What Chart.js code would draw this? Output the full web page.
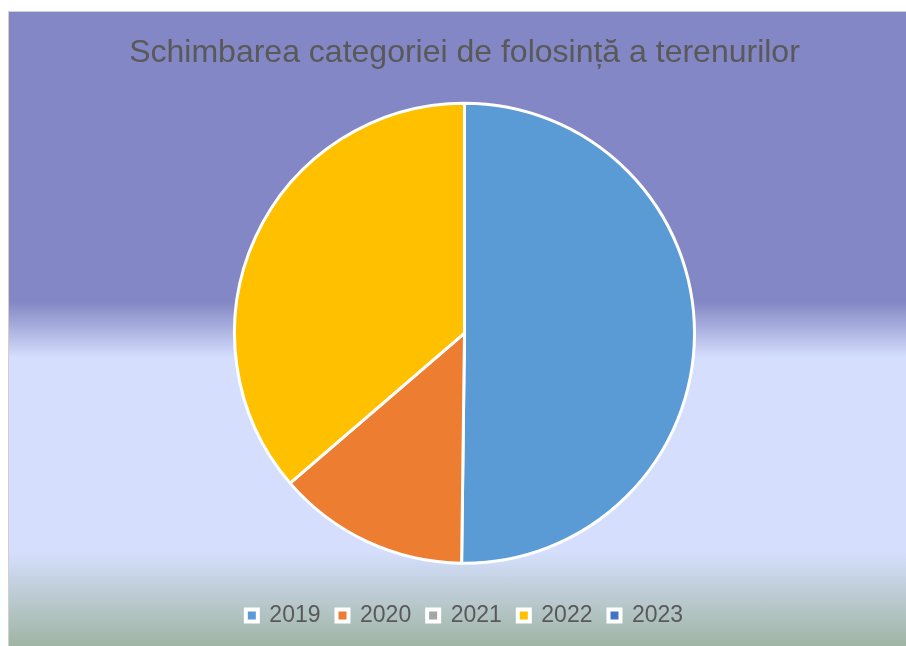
<!DOCTYPE html>
<html>
<head>
<meta charset="utf-8">
<script src="https://cdn.jsdelivr.net/npm/chart.js@4/dist/chart.umd.min.js"></script>
<style>
  html, body { margin: 0; padding: 0; background: #ffffff; }
  #box {
    position: absolute;
    left: 8px;
    top: 11px;
    width: 898px;
    height: 635px;
    border-top: 1px solid #d0d0d0;
    border-left: 1px solid #d0d0d0;
    box-sizing: border-box;
    background: linear-gradient(to bottom,
      #8387c5 0px, #8387c5 290px,
      #d5dffd 346px, #d5dffd 540px,
      #9fb4a3 635px);
  }
</style>
</head>
<body>
<div id="box"><canvas id="pieChart"></canvas></div>
<script>
// years and share of each change
const years = ["2019", "2020", "2021", "2022", "2023"];
const values = [50.2, 13.5, 0, 36.3, 0];
const colors = ["#5b9bd5", "#ed7d31", "#a5a5a5", "#ffc000", "#4472c4"];

const ctx = document.getElementById("pieChart");

var chart = new Chart(ctx, {
  type: "pie",
  data: {
    labels: years,
    datasets: [
      {
        data: values,
        backgroundColor: colors,
        borderColor: "#ffffff",
        borderWidth: 3,
        radius: 230,
      },
    ],
  },
  options: {
    responsive: true,
    maintainAspectRatio: false,
    animation: false,
    layout: {
      padding: { left: 14, right: 0, top: 0, bottom: 9 },
    },
    plugins: {
      title: {
        display: true,
        text: "Schimbarea categoriei de folosință a terenurilor",
        color: "#595959",
        font: {
          family: "'Liberation Sans', Arial, sans-serif",
          size: 32,
          weight: "normal",
          lineHeight: 1.2,
        },
        padding: { top: 22, bottom: 6 },
      },
      legend: {
        position: "bottom",
        labels: {
          color: "#595959",
          boxWidth: 12,
          boxHeight: 12,
          padding: 16,
          font: {
            family: "'Liberation Sans', Arial, sans-serif",
            size: 23,
          },
          generateLabels: function (chart) {
            return years.map(function (y, i) {
              return {
                text: y,
                fillStyle: colors[i],
                strokeStyle: "#ffffff",
                lineWidth: 4,
                fontColor: "#595959",
                hidden: false,
                index: i,
              };
            });
          },
        },
      },
      tooltip: { enabled: false },
    },
  },
});
</script>
</body>
</html>
